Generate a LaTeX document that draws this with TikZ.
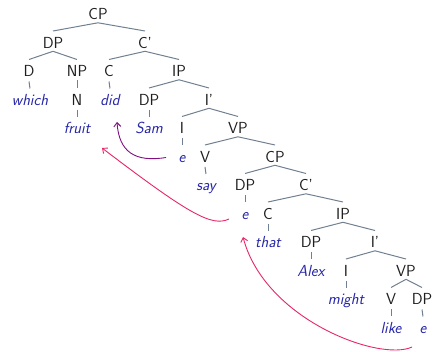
\documentclass[tikz,border=0pt]{standalone}
\usepackage{fontspec}
\usetikzlibrary{arrows.meta}
\definecolor{labcol}{RGB}{30,30,30}
\definecolor{wordcol}{RGB}{40,40,170}
\definecolor{edgecol}{RGB}{112,128,144}
\definecolor{pinkcol}{RGB}{232,38,104}
\definecolor{purplecol}{RGB}{128,16,128}
\tikzset{
  lab/.style={anchor=base, inner sep=0pt, text=labcol, font=\sffamily\fontsize{16}{19}\selectfont},
  wd/.style={anchor=base, inner sep=0pt, text=wordcol, font=\sffamily\itshape\fontsize{16}{19}\selectfont},
  edge/.style={draw=edgecol, line width=1pt},
  mov/.style={line width=0.9pt, -{Straight Barb[length=4pt,width=7pt]}},
}
\newcommand{\br}[2]{\draw[edge] ([yshift=-2.8pt]#1.base) -- ([yshift=17.5pt]#2.base);}
\newcommand{\lf}[2]{\draw[edge] ([yshift=-4.5pt]#1.base) -- ([yshift=17pt]#2.base);}
\begin{document}
\begin{tikzpicture}[x=1pt,y=-1pt]
\useasboundingbox (0,0) rectangle (434,352);
% row 0
\node[lab] (cp1) at (98,20) {CP};
% row 1
\node[lab] (dp1) at (53,48.5) {DP};
\node[lab] (cb1) at (145,48.5) {C'};
% row 2
\node[lab] (d) at (29,77) {D};
\node[lab] (np) at (77,77) {NP};
\node[lab] (c1) at (109,77) {C};
\node[lab] (ip1) at (179,77) {IP};
% row 3
\node[wd] (which) at (30,105.5) {which};
\node[lab] (n) at (77,105.5) {N};
\node[wd] (did) at (110,105.5) {did};
\node[lab] (dp2) at (149,105.5) {DP};
\node[lab] (ib1) at (209,105.5) {I'};
% row 4
\node[wd] (fruit) at (77,134) {fruit};
\node[wd] (sam) at (149,134) {Sam};
\node[lab] (i1) at (182,134) {I};
\node[lab] (vp1) at (238,134) {VP};
% row 5
\node[wd] (e1) at (182,162.5) {e};
\node[lab] (v1) at (205,162.5) {V};
\node[lab] (cp2) at (275,162.5) {CP};
% row 6
\node[wd] (say) at (206,191) {say};
\node[lab] (dp3) at (245,191) {DP};
\node[lab] (cb2) at (306,191) {C'};
% row 7
\node[wd] (e2) at (245,219.5) {e};
\node[lab] (c2) at (268,219.5) {C};
\node[lab] (ip2) at (343,219.5) {IP};
% row 8
\node[wd] (that) at (268,248) {that};
\node[lab] (dp4) at (311,248) {DP};
\node[lab] (ib2) at (375,248) {I'};
% row 9
\node[wd] (alex) at (311,276.5) {Alex};
\node[lab] (i2) at (346,276.5) {I};
\node[lab] (vp2) at (406,276.5) {VP};
% row 10
\node[wd] (might) at (346,305) {might};
\node[lab] (v2) at (391,305) {V};
\node[lab] (dp5) at (422,305) {DP};
% row 11
\node[wd] (like) at (391,333.5) {like};
\node[wd] (e3) at (423,333.5) {e};
% branches
\br{cp1}{dp1} \br{cp1}{cb1}
\br{dp1}{d} \br{dp1}{np}
\br{cb1}{c1} \br{cb1}{ip1}
\br{ip1}{dp2} \br{ip1}{ib1}
\br{ib1}{i1} \br{ib1}{vp1}
\br{vp1}{v1} \br{vp1}{cp2}
\br{cp2}{dp3} \br{cp2}{cb2}
\br{cb2}{c2} \br{cb2}{ip2}
\br{ip2}{dp4} \br{ip2}{ib2}
\br{ib2}{i2} \br{ib2}{vp2}
\br{vp2}{v2} \br{vp2}{dp5}
\br{np}{n}
% leaves
\lf{d}{which} \lf{n}{fruit} \lf{c1}{did} \lf{dp2}{sam} \lf{i1}{e1}
\lf{v1}{say} \lf{dp3}{e2} \lf{c2}{that} \lf{dp4}{alex} \lf{i2}{might}
\lf{v2}{like} \lf{dp5}{e3}
% movement arrows
\draw[mov, purplecol] ([shift={(-16,-5)}]e1.base) .. controls +(-31,5) and +(2,30) .. ([shift={(7,16.5)}]did.base);
\draw[mov, pinkcol] ([shift={(-16,-0.5)}]e2.base) .. controls +(-17,8) and +(88,67) .. ([shift={(25,14)}]fruit.base);
\draw[mov, pinkcol] ([shift={(-11,13.5)}]e3.base) .. controls +(-32,15) and +(22,83) .. ([shift={(-2,17.5)}]e2.base);
\end{tikzpicture}
\end{document}
